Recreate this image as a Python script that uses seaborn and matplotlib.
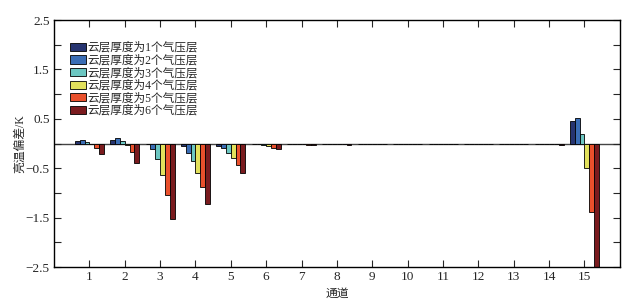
import numpy as np
import pandas as pd
import matplotlib
matplotlib.use('Agg')
import matplotlib.pyplot as plt
import seaborn as sns

# 通道 1-15, 云层厚度 1-6 个气压层的亮温偏差 (K)
channels = list(range(1, 16))
layer_labels = ['云层厚度为1个气压层', '云层厚度为2个气压层', '云层厚度为3个气压层',
                '云层厚度为4个气压层', '云层厚度为5个气压层', '云层厚度为6个气压层']
bias_1 = [0.05, 0.08, -0.01, -0.04, -0.04, -0.01, -0.01, -0.01, -0.01, -0.01, -0.01, -0.01, -0.01, -0.01, 0.46]
bias_2 = [0.07, 0.11, -0.11, -0.19, -0.09, -0.01, -0.01, -0.01, -0.01, -0.01, -0.01, -0.01, -0.01, -0.01, 0.52]
bias_3 = [0.04, 0.05, -0.32, -0.36, -0.19, -0.02, -0.01, -0.01, -0.01, -0.01, -0.01, -0.01, -0.01, -0.01, 0.19]
bias_4 = [0.00, -0.03, -0.64, -0.59, -0.30, -0.05, -0.01, -0.01, -0.01, -0.01, -0.01, -0.01, -0.01, -0.01, -0.49]
bias_5 = [-0.10, -0.18, -1.04, -0.89, -0.43, -0.09, -0.02, -0.01, -0.01, -0.01, -0.01, -0.01, -0.01, -0.01, -1.39]
bias_6 = [-0.22, -0.39, -1.52, -1.22, -0.59, -0.12, -0.02, -0.02, -0.01, -0.01, -0.01, -0.01, -0.01, -0.02, -2.55]
colors = ['#263470', '#3a6db5', '#6cc7c2', '#e2e15c', '#e9502c', '#7a1b1e']

all_bias = [bias_1, bias_2, bias_3, bias_4, bias_5, bias_6]
rows = []
for lab, vals in zip(layer_labels, all_bias):
    for ch, v in zip(channels, vals):
        rows.append({'channel': ch, 'layer': lab, 'bias': v})
df = pd.DataFrame(rows)

sns.set_style('ticks')
plt.rcParams['font.family'] = ['Liberation Serif', 'Noto Sans CJK SC']
plt.rcParams['axes.unicode_minus'] = True

fig = plt.figure(figsize=(6.39, 3.08), dpi=100)
ax = fig.add_axes([0.0845, 0.133, 0.8855, 0.802])

sns.barplot(data=df, x='channel', y='bias', hue='layer', hue_order=layer_labels,
            palette=colors, width=0.82, edgecolor='black', linewidth=0.6,
            saturation=1, errorbar=None, ax=ax)

ax.axhline(0, color='#444444', lw=1.0, zorder=0.5)

ax.set_xlim(-1, 15)
ax.set_ylim(-2.5, 2.5)
ax.set_xticks(range(15))
ax.set_xticklabels([str(c) for c in channels], fontsize=9.5)
yt = np.arange(-2.5, 2.51, 0.5)
ax.set_yticks(yt)
ax.set_yticklabels([f'{v:.1f}'.replace('-', '−') if round(v * 2) % 2 != 0 else '' for v in yt],
                   fontsize=9.5)
ax.tick_params(direction='in', top=True, right=True, length=5, width=0.8, pad=3)

for s in ax.spines.values():
    s.set_linewidth(1.0)
    s.set_color('black')

ax.set_xlabel('通道', fontsize=8.5, labelpad=3)
ax.set_ylabel('亮温偏差/K', fontsize=8.5, labelpad=0)

ax.legend(loc='upper left', bbox_to_anchor=(0.02, 0.93), frameon=False,
          fontsize=8.4, handlelength=1.4, handleheight=0.7, handletextpad=0.1,
          labelspacing=0.05, borderaxespad=0)

fig.savefig('out.png', dpi=100)
